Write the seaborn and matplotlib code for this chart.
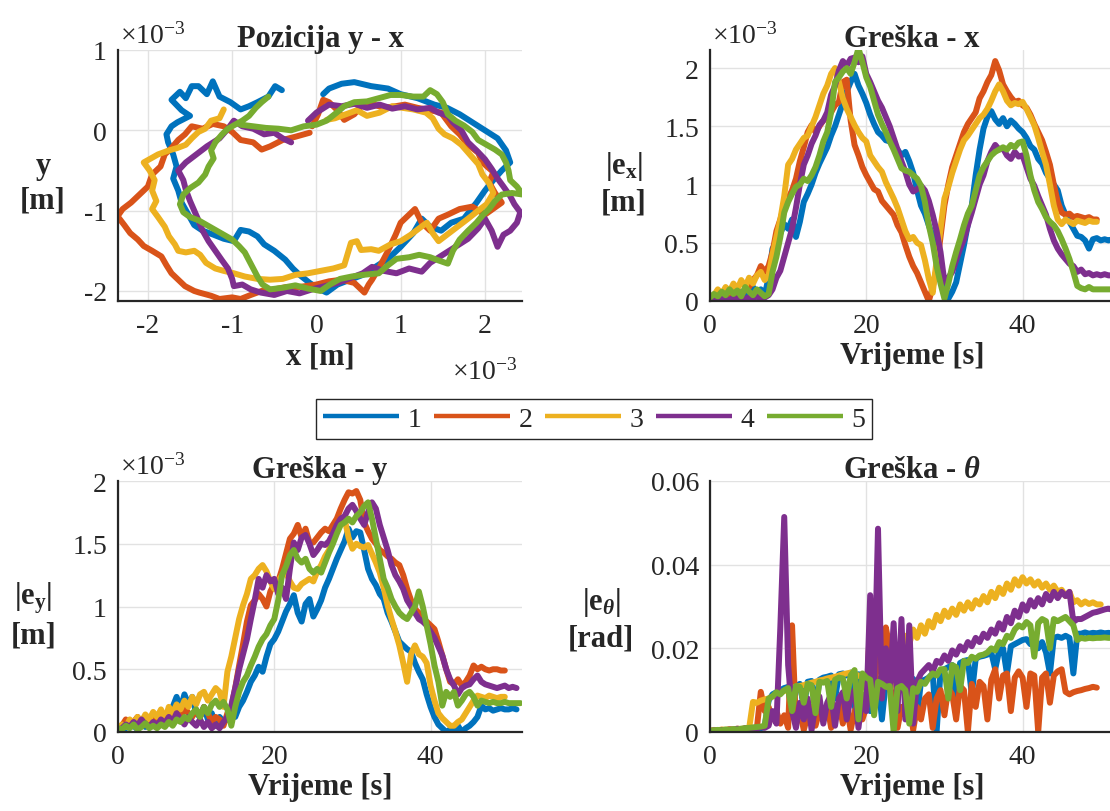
import numpy as np
import matplotlib
matplotlib.use("Agg")
import matplotlib.pyplot as plt
from matplotlib.lines import Line2D
import seaborn as sns

# ---------------- data ----------------
run_labels = ["1", "2", "3", "4", "5"]
run_colors = ["#0072BD", "#D95319", "#EDB120", "#7E2F8E", "#77AC30"]

# sample times of the error plots [s]
t = np.arange(0, 52, 0.5)

# Pozicija y - x, points (x, y) in units of 1e-3 m
loop_1 = [(-0.41, 0.50), (-0.49, 0.55), (-0.57, 0.42), (-0.70, 0.35), (-0.80, 0.30), (-0.90, 0.26),
          (-1.02, 0.35), (-1.15, 0.42), (-1.23, 0.61), (-1.30, 0.45), (-1.40, 0.55), (-1.48, 0.55),
          (-1.55, 0.40), (-1.62, 0.48), (-1.72, 0.38), (-1.60, 0.25), (-1.50, 0.18), (-1.65, 0.10),
          (-1.72, 0.05), (-1.78, -0.05), (-1.76, -0.15), (-1.70, -0.30), (-1.66, -0.45), (-1.70, -0.60),
          (-1.64, -0.75), (-1.60, -0.90), (-1.52, -1.05), (-1.45, -1.18), (-1.35, -1.25), (-1.22, -1.30),
          (-1.10, -1.35), (-0.98, -1.38), (-0.90, -1.24), (-0.80, -1.26), (-0.70, -1.32), (-0.62, -1.42),
          (-0.50, -1.50), (-0.37, -1.61), (-0.28, -1.72), (-0.20, -1.80), (-0.08, -1.90), (0.02, -1.97),
          (0.12, -2.02), (0.25, -1.92), (0.40, -1.86), (0.55, -1.80), (0.70, -1.70), (0.85, -1.60),
          (1.00, -1.45), (1.15, -1.28), (1.25, -1.10), (1.35, -1.20), (1.48, -1.25), (1.60, -1.15),
          (1.75, -1.10), (1.90, -0.90), (2.00, -0.75), (2.10, -0.62), (2.20, -0.50), (2.30, -0.40),
          (2.25, -0.25), (2.15, -0.10), (2.00, 0.00), (1.85, 0.10), (1.70, 0.20), (1.55, 0.28),
          (1.40, 0.32), (1.20, 0.40), (1.00, 0.45), (0.85, 0.52), (0.65, 0.55), (0.45, 0.60),
          (0.30, 0.58), (0.15, 0.52), (0.08, 0.45)]
loop_2 = [(-0.08, -0.03), (-0.25, -0.08), (-0.40, -0.12), (-0.55, -0.20), (-0.65, -0.24), (-0.75, -0.15),
          (-0.90, -0.12), (-1.00, -0.02), (-1.10, 0.05), (-1.23, 0.08), (-1.35, 0.02), (-1.48, 0.05),
          (-1.56, -0.05), (-1.64, -0.12), (-1.72, -0.22), (-1.80, -0.30), (-1.85, -0.45), (-1.95, -0.55),
          (-2.00, -0.70), (-2.10, -0.80), (-2.20, -0.90), (-2.30, -0.98), (-2.36, -1.07), (-2.28, -1.18),
          (-2.21, -1.28), (-2.12, -1.36), (-2.05, -1.44), (-1.95, -1.50), (-1.84, -1.57), (-1.78, -1.68),
          (-1.72, -1.78), (-1.62, -1.88), (-1.56, -1.94), (-1.45, -2.00), (-1.39, -2.02), (-1.25, -2.06),
          (-1.15, -2.10), (-1.00, -2.08), (-0.90, -2.10), (-0.78, -2.05), (-0.65, -2.00), (-0.50, -1.98),
          (-0.35, -1.95), (-0.20, -1.95), (0.00, -1.92), (0.15, -1.88), (0.30, -1.86), (0.45, -1.90),
          (0.57, -2.02), (0.62, -1.92), (0.66, -1.86), (0.75, -1.70), (0.85, -1.50), (0.94, -1.30),
          (1.00, -1.15), (1.10, -1.05), (1.17, -0.98), (1.25, -1.15), (1.35, -1.25), (1.45, -1.10),
          (1.56, -1.05), (1.70, -0.98), (1.85, -0.95), (2.00, -1.05), (2.20, -0.90), (2.12, -0.78),
          (2.05, -0.65), (2.10, -0.52), (1.97, -0.40), (1.92, -0.28), (1.80, -0.18), (1.70, -0.05),
          (1.60, 0.05), (1.48, 0.22), (1.35, 0.25), (1.20, 0.28), (1.05, 0.32), (0.94, 0.30),
          (0.80, 0.28), (0.65, 0.33), (0.53, 0.30), (0.45, 0.20), (0.33, 0.13), (0.25, 0.25),
          (0.15, 0.35), (0.08, 0.38), (0.02, 0.20), (-0.05, 0.05)]
loop_3 = [(-1.10, 0.26), (-1.15, 0.15), (-1.25, 0.12), (-1.32, 0.02), (-1.40, -0.02), (-1.48, -0.10),
          (-1.55, -0.18), (-1.65, -0.22), (-1.75, -0.25), (-1.88, -0.30), (-2.05, -0.40), (-1.98, -0.50),
          (-1.92, -0.62), (-1.95, -0.75), (-1.90, -0.88), (-1.95, -0.98), (-1.88, -1.08), (-1.80, -1.20),
          (-1.75, -1.32), (-1.68, -1.42), (-1.64, -1.50), (-1.55, -1.52), (-1.45, -1.50), (-1.38, -1.55),
          (-1.31, -1.65), (-1.20, -1.72), (-1.10, -1.75), (-0.98, -1.78), (-0.85, -1.82), (-0.70, -1.85),
          (-0.55, -1.86), (-0.40, -1.85), (-0.25, -1.80), (-0.10, -1.78), (0.05, -1.75), (0.20, -1.72),
          (0.33, -1.68), (0.41, -1.40), (0.48, -1.38), (0.53, -1.49), (0.65, -1.48), (0.74, -1.50),
          (0.88, -1.42), (1.00, -1.38), (1.12, -1.30), (1.22, -1.22), (1.31, -1.15), (1.38, -1.28),
          (1.45, -1.38), (1.55, -1.30), (1.65, -1.22), (1.80, -1.10), (1.92, -1.00), (2.02, -0.92),
          (2.10, -0.78), (2.05, -0.66), (1.97, -0.55), (1.92, -0.42), (1.82, -0.30), (1.72, -0.18),
          (1.62, -0.10), (1.52, -0.05), (1.45, 0.02), (1.38, 0.15), (1.30, 0.22), (1.15, 0.26),
          (1.02, 0.28), (0.90, 0.30), (0.75, 0.22), (0.60, 0.18), (0.48, 0.25), (0.35, 0.20),
          (0.22, 0.15), (0.12, 0.13)]
loop_4 = [(-0.30, -0.15), (-0.40, -0.10), (-0.50, -0.03), (-0.62, -0.05), (-0.75, 0.02), (-0.88, 0.05),
          (-0.98, 0.12), (-1.05, 0.02), (-1.15, -0.10), (-1.30, -0.20), (-1.45, -0.32), (-1.55, -0.40),
          (-1.64, -0.50), (-1.58, -0.62), (-1.55, -0.74), (-1.50, -0.88), (-1.45, -1.00), (-1.40, -1.12),
          (-1.35, -1.25), (-1.28, -1.38), (-1.20, -1.50), (-1.12, -1.62), (-1.05, -1.72), (-1.00, -1.85),
          (-0.98, -1.94), (-0.88, -1.92), (-0.78, -1.98), (-0.66, -2.02), (-0.50, -2.05), (-0.35, -2.00),
          (-0.20, -2.03), (-0.05, -1.98), (0.10, -1.94), (0.25, -1.90), (0.40, -1.84), (0.55, -1.78),
          (0.66, -1.70), (0.80, -1.75), (0.95, -1.78), (1.10, -1.72), (1.25, -1.76), (1.35, -1.65),
          (1.50, -1.55), (1.65, -1.45), (1.80, -1.35), (1.92, -1.22), (2.00, -1.10), (2.08, -1.25),
          (2.15, -1.45), (2.22, -1.30), (2.30, -1.25), (2.38, -1.15), (2.42, -1.02), (2.35, -0.92),
          (2.30, -0.82), (2.22, -0.70), (2.15, -0.60), (2.08, -0.48), (2.00, -0.36), (1.90, -0.25),
          (1.80, -0.15), (1.72, 0.00), (1.62, 0.10), (1.56, 0.18), (1.45, 0.22), (1.35, 0.28),
          (1.20, 0.26), (1.05, 0.30), (0.90, 0.27), (0.75, 0.32), (0.60, 0.28), (0.45, 0.33),
          (0.30, 0.30), (0.15, 0.32), (0.00, 0.22), (-0.10, 0.12)]
loop_5 = [(-0.57, 0.42), (-0.65, 0.35), (-0.72, 0.28), (-0.80, 0.18), (-0.88, 0.12), (-0.95, 0.08),
          (-1.05, 0.02), (-1.12, -0.05), (-1.20, -0.15), (-1.25, -0.25), (-1.22, -0.35), (-1.28, -0.45),
          (-1.32, -0.55), (-1.40, -0.65), (-1.50, -0.72), (-1.58, -0.80), (-1.62, -0.92), (-1.58, -1.02),
          (-1.50, -1.08), (-1.40, -1.12), (-1.30, -1.18), (-1.20, -1.24), (-1.10, -1.30), (-1.00, -1.36),
          (-0.92, -1.44), (-0.85, -1.52), (-0.80, -1.62), (-0.75, -1.72), (-0.70, -1.82), (-0.64, -1.92),
          (-0.55, -1.98), (-0.40, -1.96), (-0.25, -1.93), (-0.10, -1.97), (0.05, -2.00), (0.16, -1.92),
          (0.28, -1.85), (0.42, -1.82), (0.55, -1.80), (0.74, -1.78), (0.85, -1.68), (0.95, -1.60),
          (1.10, -1.58), (1.22, -1.55), (1.35, -1.58), (1.45, -1.62), (1.56, -1.66), (1.62, -1.50),
          (1.70, -1.36), (1.80, -1.25), (1.90, -1.15), (1.98, -1.05), (2.05, -0.98), (2.12, -0.88),
          (2.20, -0.80), (2.32, -0.78), (2.45, -0.80), (2.38, -0.70), (2.30, -0.62), (2.28, -0.50),
          (2.25, -0.40), (2.20, -0.30), (2.12, -0.24), (2.02, -0.18), (1.92, -0.12), (1.85, -0.02),
          (1.75, 0.06), (1.65, 0.12), (1.56, 0.20), (1.50, 0.35), (1.43, 0.45), (1.35, 0.50),
          (1.27, 0.42), (1.15, 0.42), (1.00, 0.44), (0.88, 0.44), (0.74, 0.40), (0.60, 0.36),
          (0.45, 0.35), (0.33, 0.30), (0.24, 0.22), (0.12, 0.12), (0.00, 0.07), (-0.15, 0.05),
          (-0.30, 0.00), (-0.45, 0.02), (-0.60, 0.03), (-0.75, 0.05), (-0.90, 0.07)]

# Greska - x, |e_x| in units of 1e-3 m, one value every 0.5 s
ex_1 = [0.02, 0.04, 0.06, 0.05, 0.08, 0.04, 0.10, 0.06, 0.08, 0.05,
        0.09, 0.12, 0.07, 0.10, 0.05, 0.20, 0.45, 0.50, 0.58, 0.66,
        0.62, 0.70, 0.55, 0.68, 0.85, 0.92, 1.00, 1.10, 1.18, 1.25,
        1.32, 1.42, 1.50, 1.60, 1.70, 1.80, 1.88, 1.95, 1.85, 1.78,
        1.70, 1.60, 1.52, 1.45, 1.42, 1.38, 1.37, 1.33, 1.30, 1.25,
        1.28, 1.20, 1.10, 0.95, 0.82, 0.75, 0.65, 0.56, 0.45, 0.32,
        0.15, 0.02, 0.08, 0.16, 0.32, 0.48, 0.66, 0.82, 1.08, 1.30,
        1.48, 1.58, 1.63, 1.56, 1.52, 1.57, 1.50, 1.55, 1.52, 1.48,
        1.45, 1.40, 1.33, 1.30, 1.22, 1.18, 1.10, 1.05, 1.00, 0.95,
        0.82, 0.74, 0.68, 0.62, 0.56, 0.55, 0.52, 0.45, 0.53, 0.54,
        0.52, 0.53, 0.52, 0.53]
ex_2 = [0.01, 0.02, 0.05, 0.03, 0.02, 0.06, 0.04, 0.08, 0.05, 0.10,
        0.12, 0.18, 0.22, 0.30, 0.25, 0.30, 0.42, 0.60, 0.70, 0.82,
        0.88, 0.95, 1.05, 1.20, 1.32, 1.45, 1.51, 1.45, 1.50, 1.55,
        1.58, 1.62, 1.68, 1.71, 1.88, 1.90, 1.55, 1.34, 1.25, 1.15,
        1.08, 1.02, 0.96, 0.94, 0.86, 0.82, 0.78, 0.74, 0.65, 0.59,
        0.48, 0.38, 0.30, 0.24, 0.16, 0.08, 0.00, 0.12, 0.28, 0.55,
        0.82, 1.00, 1.15, 1.25, 1.35, 1.45, 1.52, 1.57, 1.62, 1.74,
        1.80, 1.88, 1.94, 2.06, 1.98, 1.86, 1.80, 1.75, 1.71, 1.72,
        1.68, 1.66, 1.60, 1.52, 1.45, 1.38, 1.28, 1.17, 1.00, 0.85,
        0.76, 0.74, 0.75, 0.72, 0.73, 0.72, 0.71, 0.72, 0.70, 0.70]
ex_3 = [0.02, 0.05, 0.10, 0.06, 0.12, 0.08, 0.15, 0.10, 0.18, 0.12,
        0.20, 0.15, 0.22, 0.25, 0.18, 0.22, 0.40, 0.55, 0.70, 0.90,
        1.17, 1.22, 1.30, 1.35, 1.40, 1.42, 1.50, 1.58, 1.68, 1.78,
        1.85, 1.95, 2.00, 1.88, 1.74, 1.65, 1.58, 1.51, 1.45, 1.40,
        1.37, 1.25, 1.20, 1.15, 1.11, 1.02, 0.95, 0.88, 0.80, 0.70,
        0.60, 0.53, 0.55, 0.50, 0.48, 0.35, 0.19, 0.07, 0.35, 0.62,
        0.88, 0.98, 1.10, 1.20, 1.30, 1.38, 1.42, 1.47, 1.52, 1.57,
        1.60, 1.65, 1.72, 1.80, 1.86, 1.80, 1.72, 1.68, 1.70, 1.69,
        1.71, 1.65, 1.58, 1.51, 1.40, 1.28, 1.17, 1.00, 0.82, 0.70,
        0.66, 0.70, 0.68, 0.66, 0.69, 0.68, 0.67, 0.69, 0.68, 0.68]
ex_4 = [0.00, 0.02, 0.01, 0.03, 0.02, 0.01, 0.03, 0.02, 0.01, 0.02,
        0.03, 0.02, 0.04, 0.02, 0.03, 0.05, 0.10, 0.20, 0.26, 0.38,
        0.50, 0.62, 0.80, 1.00, 1.17, 1.25, 1.35, 1.42, 1.51, 1.55,
        1.62, 1.77, 1.85, 1.98, 2.06, 2.02, 2.08, 2.09, 2.05, 2.10,
        1.95, 1.88, 1.80, 1.72, 1.66, 1.58, 1.50, 1.40, 1.30, 1.20,
        1.11, 1.00, 0.94, 0.96, 0.99, 0.95, 0.86, 0.74, 0.60, 0.42,
        0.16, 0.20, 0.25, 0.35, 0.45, 0.53, 0.65, 0.76, 0.88, 1.00,
        1.08, 1.20, 1.28, 1.34, 1.30, 1.31, 1.25, 1.22, 1.28, 1.24,
        1.25, 1.15, 1.05, 0.99, 0.90, 0.82, 0.74, 0.62, 0.52, 0.45,
        0.40, 0.36, 0.32, 0.30, 0.25, 0.27, 0.23, 0.24, 0.22, 0.23,
        0.22, 0.23, 0.22, 0.22]
ex_5 = [0.03, 0.06, 0.04, 0.08, 0.05, 0.10, 0.06, 0.09, 0.04, 0.12,
        0.08, 0.05, 0.10, 0.07, 0.04, 0.06, 0.25, 0.38, 0.55, 0.76,
        0.85, 0.92, 0.98, 1.00, 1.05, 1.03, 1.08, 1.15, 1.25, 1.37,
        1.45, 1.62, 1.88, 1.92, 1.97, 2.00, 1.95, 2.05, 2.17, 2.05,
        1.92, 1.84, 1.72, 1.60, 1.52, 1.45, 1.37, 1.30, 1.22, 1.14,
        1.12, 1.11, 1.08, 1.05, 0.99, 0.85, 0.65, 0.50, 0.30, 0.15,
        0.02, 0.15, 0.30, 0.42, 0.53, 0.65, 0.75, 0.82, 0.95, 1.08,
        1.15, 1.20, 1.25, 1.28, 1.30, 1.32, 1.30, 1.34, 1.32, 1.36,
        1.37, 1.25, 1.08, 0.95, 0.85, 0.79, 0.72, 0.68, 0.65, 0.60,
        0.53, 0.45, 0.36, 0.25, 0.13, 0.11, 0.10, 0.12, 0.10, 0.10,
        0.10, 0.10, 0.10, 0.10]

# Greska - y, |e_y| in units of 1e-3 m
ey_1 = [0.02, 0.04, 0.03, 0.06, 0.05, 0.02, 0.07, 0.04, 0.08, 0.05,
        0.10, 0.06, 0.12, 0.08, 0.20, 0.28, 0.18, 0.30, 0.22, 0.28,
        0.15, 0.12, 0.20, 0.10, 0.15, 0.05, 0.12, 0.08, 0.10, 0.15,
        0.12, 0.20, 0.25, 0.32, 0.40, 0.45, 0.52, 0.48, 0.60, 0.70,
        0.74, 0.80, 0.88, 0.96, 1.02, 1.09, 0.95, 0.88, 1.02, 1.06,
        0.92, 0.98, 1.05, 1.15, 1.22, 1.30, 1.38, 1.45, 1.52, 1.62,
        1.55, 1.60, 1.59, 1.45, 1.30, 1.22, 1.17, 1.10, 1.06, 0.95,
        0.88, 0.80, 0.72, 0.69, 0.66, 0.64, 0.55, 0.48, 0.42, 0.30,
        0.20, 0.12, 0.06, 0.03, 0.00, 0.02, 0.00, 0.05, 0.00, 0.03,
        0.05, 0.08, 0.12, 0.21, 0.18, 0.19, 0.17, 0.18, 0.19, 0.18,
        0.18, 0.19, 0.18]
ey_2 = [0.03, 0.05, 0.10, 0.06, 0.08, 0.12, 0.05, 0.10, 0.07, 0.15,
        0.10, 0.13, 0.08, 0.16, 0.12, 0.18, 0.10, 0.20, 0.15, 0.12,
        0.18, 0.12, 0.20, 0.15, 0.08, 0.12, 0.10, 0.05, 0.15, 0.20,
        0.35, 0.53, 0.70, 0.88, 1.01, 1.05, 1.10, 1.06, 1.00, 1.12,
        1.18, 1.20, 1.30, 1.42, 1.54, 1.58, 1.65, 1.55, 1.62, 1.51,
        1.51, 1.55, 1.59, 1.62, 1.60, 1.65, 1.70, 1.78, 1.85, 1.91,
        1.90, 1.92, 1.85, 1.67, 1.60, 1.54, 1.50, 1.45, 1.43, 1.40,
        1.38, 1.35, 1.33, 1.25, 1.14, 1.05, 0.98, 0.95, 0.90, 0.88,
        0.85, 0.82, 0.72, 0.61, 0.50, 0.40, 0.38, 0.42, 0.37, 0.40,
        0.45, 0.53, 0.50, 0.52, 0.50, 0.49, 0.50, 0.50, 0.49, 0.49]
ey_3 = [0.02, 0.06, 0.04, 0.10, 0.07, 0.12, 0.08, 0.14, 0.10, 0.16,
        0.12, 0.18, 0.10, 0.20, 0.15, 0.22, 0.18, 0.25, 0.20, 0.28,
        0.22, 0.30, 0.32, 0.25, 0.30, 0.35, 0.32, 0.20, 0.48, 0.60,
        0.75, 0.90, 1.01, 1.10, 1.22, 1.25, 1.30, 1.33, 1.28, 1.20,
        1.14, 1.20, 1.25, 1.27, 1.20, 1.15, 1.14, 1.18, 1.20, 1.22,
        1.20, 1.28, 1.33, 1.40, 1.45, 1.54, 1.60, 1.68, 1.70, 1.55,
        1.46, 1.50, 1.48, 1.47, 1.49, 1.42, 1.35, 1.27, 1.15, 1.01,
        0.90, 0.80, 0.69, 0.55, 0.40, 0.62, 0.69, 0.62, 0.60, 0.55,
        0.37, 0.25, 0.15, 0.11, 0.08, 0.05, 0.05, 0.08, 0.10, 0.15,
        0.20, 0.25, 0.29, 0.28, 0.27, 0.29, 0.28, 0.27, 0.28, 0.28]
ey_4 = [0.01, 0.03, 0.06, 0.04, 0.08, 0.05, 0.10, 0.06, 0.04, 0.08,
        0.05, 0.10, 0.07, 0.12, 0.08, 0.15, 0.10, 0.06, 0.12, 0.08,
        0.05, 0.10, 0.04, 0.08, 0.03, 0.06, 0.03, 0.08, 0.12, 0.21,
        0.35, 0.50, 0.62, 0.74, 0.90, 1.05, 1.22, 1.15, 1.25, 1.20,
        1.22, 1.10, 1.15, 1.06, 1.30, 1.51, 1.45, 1.55, 1.57, 1.50,
        1.41, 1.45, 1.50, 1.49, 1.52, 1.58, 1.65, 1.70, 1.72, 1.78,
        1.81, 1.76, 1.70, 1.65, 1.75, 1.83, 1.78, 1.65, 1.55, 1.45,
        1.33, 1.25, 1.20, 1.14, 1.05, 1.00, 0.95, 0.90, 0.88, 0.85,
        0.80, 0.75, 0.68, 0.61, 0.50, 0.42, 0.37, 0.30, 0.35, 0.37,
        0.38, 0.42, 0.45, 0.40, 0.38, 0.37, 0.36, 0.35, 0.36, 0.37,
        0.35, 0.36, 0.35]
ey_5 = [0.03, 0.02, 0.05, 0.03, 0.06, 0.02, 0.04, 0.07, 0.03, 0.05,
        0.03, 0.06, 0.04, 0.08, 0.05, 0.10, 0.08, 0.12, 0.10, 0.15,
        0.18, 0.12, 0.20, 0.15, 0.22, 0.25, 0.20, 0.24, 0.18, 0.05,
        0.20, 0.32, 0.40, 0.45, 0.53, 0.60, 0.68, 0.74, 0.78, 0.85,
        0.90, 1.05, 1.25, 1.32, 1.41, 1.45, 1.38, 1.35, 1.38, 1.30,
        1.27, 1.30, 1.27, 1.35, 1.43, 1.50, 1.58, 1.65, 1.67, 1.70,
        1.67, 1.72, 1.75, 1.80, 1.83, 1.70, 1.54, 1.38, 1.22, 1.15,
        1.06, 1.00, 0.95, 0.92, 0.90, 0.95, 1.00, 1.12, 1.00, 0.85,
        0.70, 0.53, 0.40, 0.21, 0.32, 0.28, 0.32, 0.21, 0.25, 0.30,
        0.32, 0.28, 0.21, 0.25, 0.24, 0.23, 0.24, 0.23, 0.23, 0.24,
        0.23, 0.23, 0.23, 0.23]

# Greska - theta, |e_theta| in units of 1e-3 rad
eth_1 = [0.2, 0.3, 0.4, 0.3, 0.5, 0.4, 0.6, 0.5, 0.7, 0.6,
         0.8, 0.7, 1.0, 0.9, 1.2, 7.5, 9.0, 9.5, 10.0, 10.5,
         10.8, 4.0, 11.0, 11.5, 6.0, 12.0, 12.2, 5.0, 12.5, 13.0,
         13.2, 13.5, 8.0, 13.8, 14.0, 13.5, 14.2, 6.0, 13.8, 13.5,
         13.0, 5.0, 12.5, 12.8, 3.0, 12.0, 12.5, 4.0, 12.0, 12.8,
         12.5, 12.0, 12.7, 3.5, 12.2, 12.5, 13.0, 14.0, 0.0, 14.5,
         15.0, 15.5, 16.0, 8.0, 16.5, 17.0, 17.2, 9.0, 17.5, 18.0,
         18.2, 18.5, 19.0, 15.0, 19.5, 20.0, 14.0, 20.5, 21.0, 21.5,
         22.0, 22.2, 21.0, 22.5, 20.0, 21.5, 19.0, 14.0, 22.5, 22.8,
         22.5, 23.0, 22.5, 14.0, 23.5, 23.5, 23.8, 23.5, 23.7, 23.6,
         23.8, 23.6, 23.7, 23.6]
eth_2 = [0.2, 0.4, 0.3, 0.5, 0.4, 0.6, 0.5, 0.7, 0.6, 0.8,
         0.7, 0.9, 1.0, 9.6, 5.0, 6.0, 3.0, 5.0, 2.0, 4.0,
         1.0, 25.5, 2.0, 5.0, 0.5, 4.0, 6.0, 1.5, 5.0, 3.0,
         6.5, 1.0, 5.5, 7.0, 2.0, 6.0, 0.5, 5.0, 7.0, 3.0,
         6.0, 27.0, 8.0, 26.0, 12.0, 25.0, 20.0, 8.0, 1.0, 6.0,
         4.0, 7.0, 0.5, 6.0, 3.0, 8.0, 9.0, 1.0, 8.0, 10.0,
         4.0, 10.5, 9.0, 3.0, 11.0, 10.0, 0.0, 11.5, 6.0, 12.0,
         11.0, 3.0, 12.5, 15.0, 8.0, 13.5, 14.0, 5.0, 13.0, 14.5,
         13.0, 6.0, 14.0, 13.5, 0.0, 13.0, 14.0, 7.0, 13.5, 14.5,
         15.0, 9.6, 9.0, 9.5, 9.8, 10.0, 10.3, 10.5, 10.8, 10.6]
eth_3 = [0.3, 0.5, 0.4, 0.6, 0.5, 0.7, 0.6, 0.8, 0.7, 0.9,
         0.8, 7.2, 7.0, 7.5, 7.8, 8.0, 8.5, 9.0, 9.5, 9.8,
         10.0, 10.5, 10.8, 11.0, 11.2, 11.5, 11.8, 12.0, 12.3, 12.5,
         12.8, 13.0, 13.2, 13.5, 13.8, 14.0, 14.2, 13.8, 13.5, 13.0,
         12.5, 12.0, 11.5, 11.0, 11.5, 11.0, 10.5, 11.0, 10.8, 11.2,
         23.0, 21.0, 24.5, 22.5, 25.5, 23.5, 26.5, 25.0, 28.0, 26.5,
         29.0, 27.5, 29.5, 28.0, 30.5, 29.0, 31.0, 29.5, 31.5, 30.5,
         32.5, 31.0, 33.5, 32.0, 34.5, 33.0, 35.5, 34.0, 36.5, 35.0,
         37.0, 35.5, 36.5, 35.0, 36.0, 34.5, 35.5, 34.0, 35.0, 33.5,
         34.0, 32.5, 33.5, 31.0, 31.5, 30.5, 31.2, 30.6, 31.0, 30.5,
         30.5]
eth_4 = [0.2, 0.4, 0.3, 0.5, 0.4, 0.6, 0.5, 0.8, 0.6, 0.9,
         0.7, 1.0, 0.8, 1.2, 1.0, 1.5, 5.0, 2.0, 25.0, 51.4,
         16.0, 5.0, 1.0, 7.0, 3.0, 8.0, 0.5, 6.5, 8.5, 2.0,
         7.0, 9.0, 1.5, 8.0, 9.5, 3.0, 8.5, 10.0, 1.0, 9.0,
         5.0, 32.7, 10.0, 48.6, 8.0, 20.0, 10.0, 26.0, 5.0, 27.0,
         3.0, 25.5, 2.0, 12.0, 14.0, 15.0, 16.0, 14.5, 17.0, 16.5,
         18.3, 17.0, 19.5, 18.5, 20.5, 19.5, 21.5, 20.5, 22.5, 21.5,
         23.5, 22.5, 24.5, 23.5, 26.0, 24.5, 27.5, 26.0, 29.0, 27.5,
         30.5, 29.0, 31.5, 30.0, 32.0, 30.5, 33.0, 31.5, 33.5, 32.0,
         33.5, 32.5, 33.5, 26.3, 27.0, 27.0, 27.5, 28.0, 28.5, 28.7,
         29.0, 29.3, 29.5, 29.2]
eth_5 = [0.3, 0.4, 0.5, 0.4, 0.6, 0.5, 0.7, 0.6, 0.8, 0.9,
         1.0, 1.1, 1.2, 1.3, 1.5, 8.0, 8.5, 9.5, 9.0, 10.0,
         10.5, 5.0, 11.0, 10.8, 7.0, 11.5, 11.2, 4.5, 12.0, 11.8,
         12.2, 6.0, 12.5, 13.0, 12.8, 8.0, 13.5, 14.8, 3.0, 14.0,
         13.0, 12.5, 4.0, 12.0, 11.5, 10.8, 11.0, 0.0, 10.5, 11.0,
         10.0, 2.0, 10.5, 9.6, 12.0, 11.5, 13.0, 14.0, 13.5, 15.0,
         15.0, 8.0, 16.0, 15.5, 10.0, 17.0, 16.5, 18.0, 17.5, 18.3,
         18.5, 19.0, 20.0, 19.5, 21.5, 21.0, 23.0, 22.5, 24.5, 25.5,
         25.0, 26.3, 25.5, 18.0, 26.0, 27.0, 26.5, 20.0, 27.0, 26.5,
         27.0, 27.5, 26.5, 25.5, 22.0, 22.5, 22.3, 22.5, 22.4, 22.5,
         22.5, 22.6, 22.5, 22.5]

loops = [loop_1, loop_2, loop_3, loop_4, loop_5]
ex_runs = [ex_1, ex_2, ex_3, ex_4, ex_5]
ey_runs = [ey_1, ey_2, ey_3, ey_4, ey_5]
eth_runs = [eth_1, eth_2, eth_3, eth_4, eth_5]

# ---------------- style ----------------
sns.set_theme(style="whitegrid")
plt.rcParams["font.family"] = ["Liberation Serif", "DejaVu Serif"]
plt.rcParams["mathtext.fontset"] = "custom"
plt.rcParams["mathtext.rm"] = "Liberation Serif"
plt.rcParams["mathtext.it"] = "Liberation Serif:italic"
plt.rcParams["mathtext.bf"] = "Liberation Serif:bold"
plt.rcParams["mathtext.bfit"] = "Liberation Serif:italic:bold"
plt.rcParams["lines.solid_joinstyle"] = "round"
plt.rcParams["lines.solid_capstyle"] = "round"

INK = "#262626"
LW = 4.3
TICK_FS = 20
LABEL_FS = 22

fig = plt.figure(figsize=(11.1, 8.12), dpi=100)
W, H = 1110, 812


def make_axes(left, top):
    return fig.add_axes([left / W, 1 - (top + 251) / H, 404 / W, 251 / H])


def style_axes(ax):
    ax.set_facecolor("white")
    ax.grid(True, color="#e2e2e2", linewidth=1.0)
    for side in ["top", "right"]:
        ax.spines[side].set_visible(False)
    for side in ["left", "bottom"]:
        ax.spines[side].set_color(INK)
        ax.spines[side].set_linewidth(1.6)
    ax.tick_params(axis="both", direction="in", length=4, width=1.2, colors=INK,
                   labelsize=TICK_FS, labelcolor=INK)
    ax.tick_params(axis="x", pad=9)
    ax.tick_params(axis="y", pad=8)


def side_label(ax, text, x, y=0.47):
    ax.text(x, y, text, transform=ax.transAxes, ha="center", va="center",
            fontsize=LABEL_FS, fontweight="bold", color=INK, linespacing=1.25,
            multialignment="center")


def offset_label(ax, x, y, ha):
    ax.text(x, y, r"$\times10^{-3}$", transform=ax.transAxes, ha=ha, va="baseline",
            fontsize=TICK_FS, color=INK)


ax_pos = make_axes(118, 51)
ax_ex = make_axes(710, 51)
ax_ey = make_axes(118, 482)
ax_eth = make_axes(710, 482)

# Pozicija y - x
for pts, col in zip(loops, run_colors):
    xy = np.array(pts)
    sns.lineplot(x=xy[:, 0], y=xy[:, 1], sort=False, estimator=None, ax=ax_pos,
                 color=col, linewidth=LW)

# time plots
for ax, runs, scale in [(ax_ex, ex_runs, 1.0), (ax_ey, ey_runs, 1.0), (ax_eth, eth_runs, 1e-3)]:
    for vals, col in zip(runs, run_colors):
        v = np.array(vals) * scale
        sns.lineplot(x=t[:len(v)], y=v, estimator=None, ax=ax, color=col, linewidth=LW)

for ax in [ax_pos, ax_ex, ax_ey, ax_eth]:
    style_axes(ax)

# axes limits / ticks
ax_pos.set_xlim(-2.355, 2.44)
ax_pos.set_ylim(-2.125, 1.0)
ax_pos.set_xticks([-2, -1, 0, 1, 2])
ax_pos.set_xticklabels(["-2", "-1", "0", "1", "2"])
ax_pos.set_yticks([-2, -1, 0, 1])
ax_pos.set_yticklabels(["-2", "-1", "0", "1"])

for ax in [ax_ex, ax_ey, ax_eth]:
    ax.set_xlim(0, 51.7)
    ax.set_xticks([0, 20, 40])
    ax.set_xticklabels(["0", "20", "40"])

ax_ex.set_ylim(0, 2.155)
ax_ex.set_yticks([0, 0.5, 1, 1.5, 2])
ax_ex.set_yticklabels(["0", "0.5", "1", "1.5", "2"])
ax_ey.set_ylim(0, 2.0)
ax_ey.set_yticks([0, 0.5, 1, 1.5, 2])
ax_ey.set_yticklabels(["0", "0.5", "1", "1.5", "2"])
ax_eth.set_ylim(0, 0.06)
ax_eth.set_yticks([0, 0.02, 0.04, 0.06])
ax_eth.set_yticklabels(["0", "0.02", "0.04", "0.06"])

# titles and labels
titles = [(ax_pos, "Pozicija y - x"), (ax_ex, "Greška - x"), (ax_ey, "Greška - y"),
          (ax_eth, r"Greška - $\mathbfit{\theta}$")]
for ax, title in titles:
    ax.set_title(title, fontsize=LABEL_FS, fontweight="bold", color=INK, pad=3)

ax_pos.set_xlabel("x [m]", fontsize=LABEL_FS, fontweight="bold", color=INK, labelpad=2)
for ax in [ax_ex, ax_ey, ax_eth]:
    ax.set_xlabel("Vrijeme [s]", fontsize=LABEL_FS, fontweight="bold", color=INK, labelpad=2)
for ax in [ax_pos, ax_ex, ax_ey, ax_eth]:
    ax.set_ylabel("")

side_label(ax_pos, "y\n[m]", -0.186, 0.47)
side_label(ax_ex, "|e$_{\\mathbf{x}}$|\n[m]", -0.213, 0.47)
side_label(ax_ey, "|e$_{\\mathbf{y}}$|\n[m]", -0.21, 0.47)
side_label(ax_eth, "|e$_{\\mathbfit{\\theta}}$|\n[rad]", -0.27, 0.45)

offset_label(ax_pos, 0.005, 1.03, "left")
offset_label(ax_ex, 0.005, 1.03, "left")
offset_label(ax_ey, 0.005, 1.03, "left")
offset_label(ax_pos, 0.99, -0.31, "right")

# legend
handles = [Line2D([0], [0], color=c, linewidth=3.2, solid_capstyle="butt") for c in run_colors]
leg = fig.legend(handles, run_labels, loc="center", bbox_to_anchor=(594 / W, 1 - 420 / H),
                 ncol=5, fontsize=TICK_FS, frameon=True, fancybox=False, framealpha=1,
                 edgecolor=INK, handlelength=2.75, handletextpad=0.3, columnspacing=0.45,
                 borderpad=0.25, borderaxespad=0)
leg.get_frame().set_linewidth(1.0)
for txt in leg.get_texts():
    txt.set_color(INK)

fig.savefig("out.png", dpi=100)
